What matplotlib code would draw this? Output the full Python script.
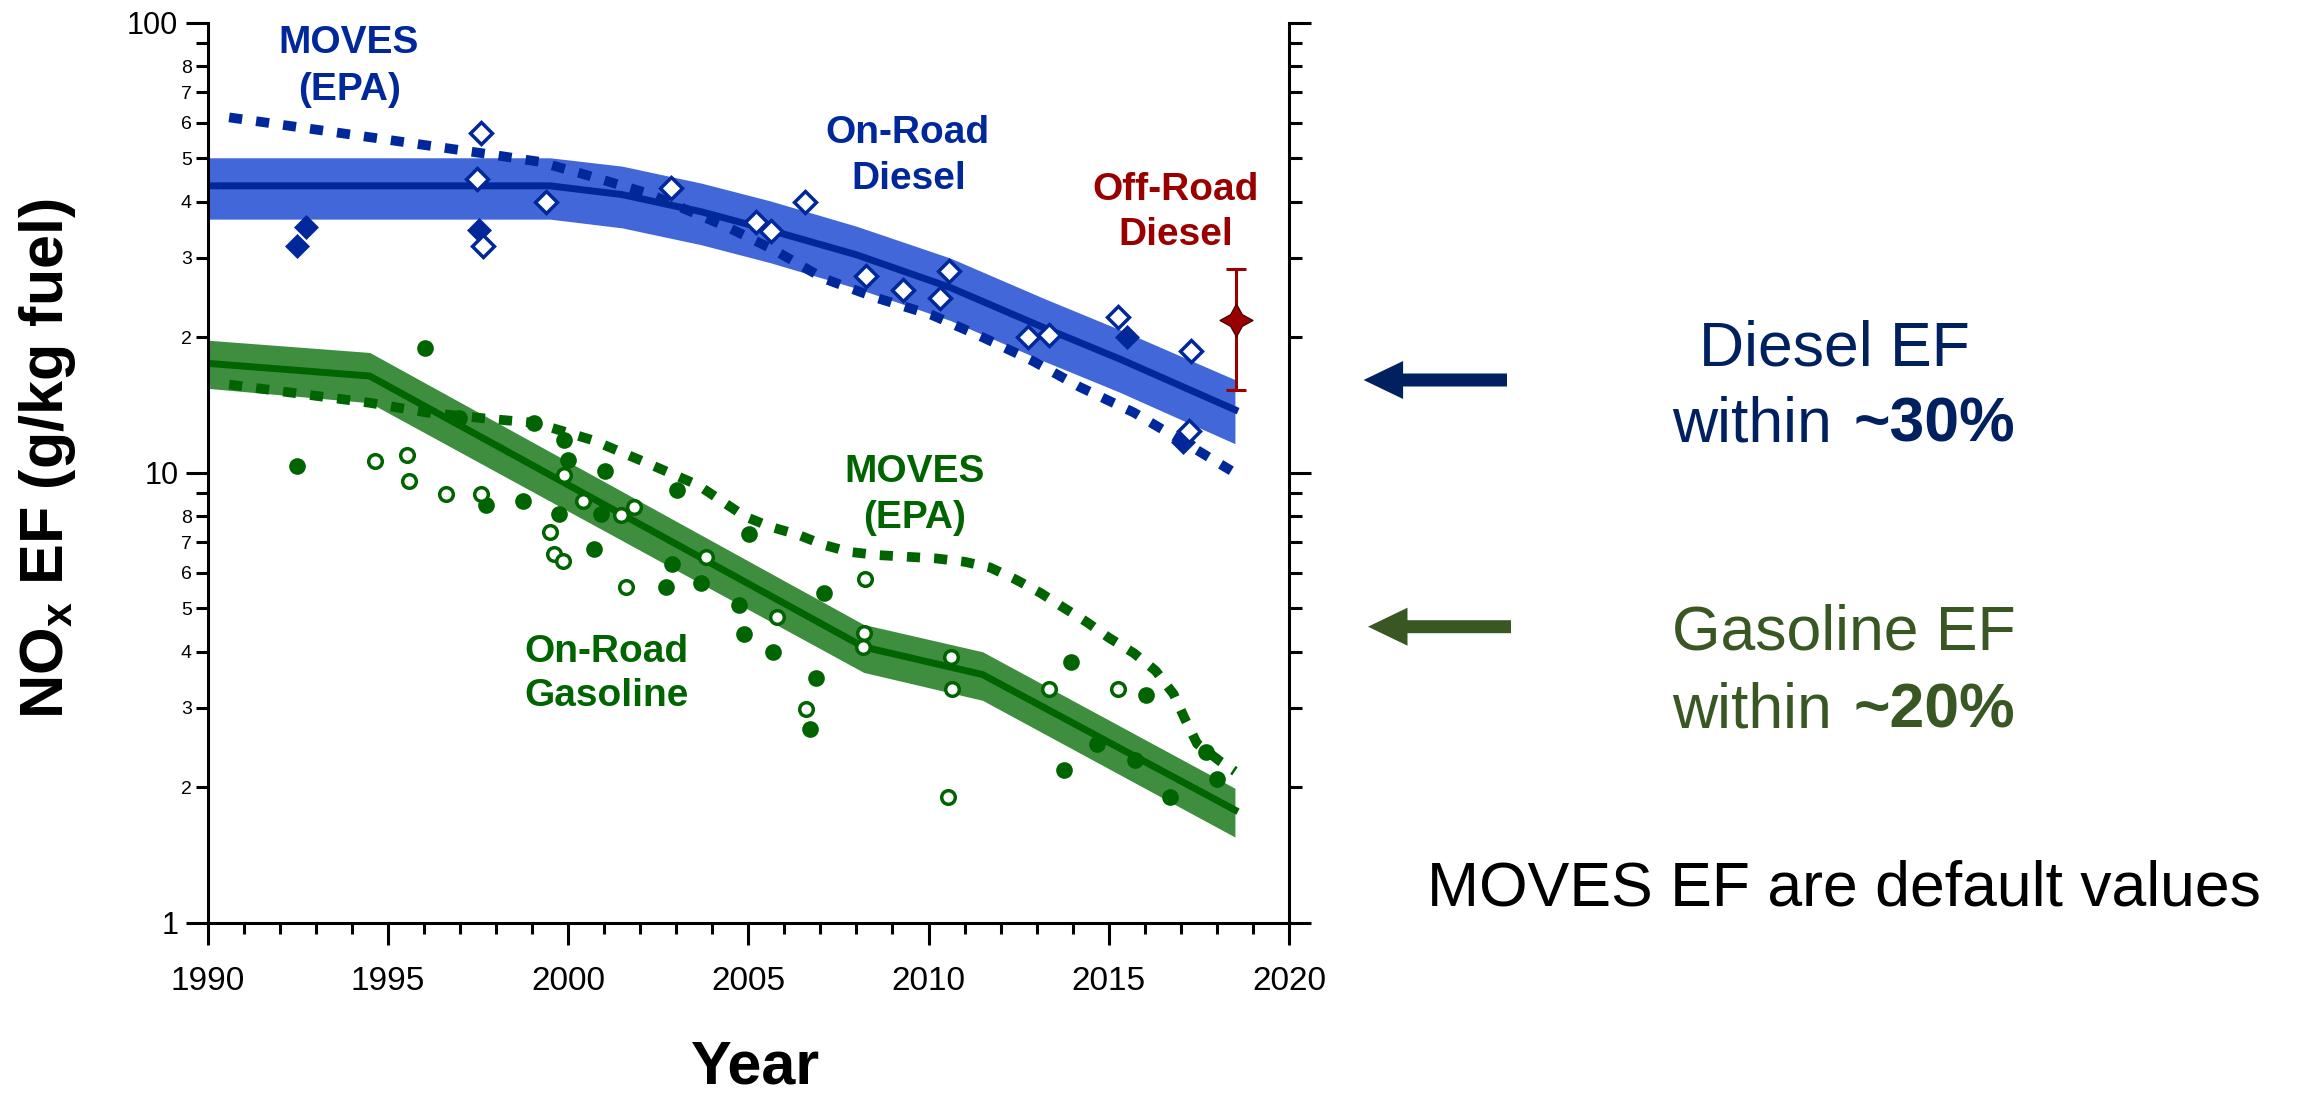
import matplotlib
matplotlib.use("Agg")
import matplotlib.pyplot as plt
from matplotlib.ticker import FixedLocator, FixedFormatter
from matplotlib.patches import FancyArrow
from matplotlib.transforms import IdentityTransform

plt.rcParams['font.family'] = ['Liberation Sans', 'DejaVu Sans']
plt.rcParams['mathtext.fontset'] = 'custom'
plt.rcParams['mathtext.rm'] = 'Liberation Sans'
plt.rcParams['mathtext.bf'] = 'Liberation Sans:bold'
plt.rcParams['mathtext.it'] = 'Liberation Sans:italic'

W, H = 2298, 1097

# on-road diesel fit and band
diesel_fit_year = [1990, 1999.5, 2001.5, 2003.7, 2005.6, 2008.0, 2010.6, 2013.2, 2015.3, 2018.5]
diesel_fit = [43.4, 43.4, 41.5, 38.0, 34.6, 30.5, 25.8, 21.0, 17.9, 13.8]
diesel_hi = [50.1, 50.1, 48.0, 44.0, 40.2, 35.3, 30.0, 24.4, 20.8, 16.1]
diesel_lo = [36.6, 36.6, 35.0, 32.1, 29.3, 25.7, 21.8, 17.7, 15.1, 11.6]

# MOVES diesel default
moves_d_year = [1990.6, 1994.0, 1997.6, 1999.2, 2000.5, 2002.2, 2004.4, 2005.7, 2007.1,
                2008.6, 2010.1, 2011.5, 2012.9, 2014.2, 2015.7, 2017.0, 2018.4]
moves_d = [61.6, 56.4, 51.3, 49.1, 45.9, 41.8, 35.2, 31.3, 27.0,
           24.4, 22.4, 20.0, 17.7, 15.5, 13.6, 11.8, 10.1]

# diesel measurements
diesel_filled_year = [1992.49, 1992.72, 1997.53, 2015.5, 2017.06]
diesel_filled = [31.9, 35.1, 34.6, 20.0, 11.7]
diesel_open_year = [1997.58, 1997.48, 1997.64, 1999.38, 2002.87, 2005.21, 2005.62, 2006.58,
                    2008.26, 2009.30, 2010.31, 2010.56, 2012.75, 2013.34, 2015.25, 2017.29, 2017.23]
diesel_open = [57.0, 44.9, 31.9, 39.9, 43.0, 36.0, 34.5, 40.0,
               27.3, 25.5, 24.5, 28.0, 20.0, 20.2, 22.2, 18.6, 12.4]

# off-road diesel
offroad_year = [2018.52]
offroad = [21.8]
offroad_lo = [15.3]
offroad_hi = [28.3]

# on-road gasoline fit and band
gas_fit_year = [1990, 1994.5, 2008.2, 2011.5, 2018.5]
gas_fit = [17.5, 16.4, 4.1, 3.56, 1.78]
gas_hi = [19.7, 18.5, 4.6, 4.0, 1.99]
gas_lo = [15.4, 14.3, 3.6, 3.12, 1.55]

# MOVES gasoline default
moves_g_year = [1990.6, 1994.5, 1996.1, 1997.7, 1999.1, 2000.7, 2002.2, 2003.6, 2004.9, 2005.6,
                2006.4, 2007.1, 2007.8, 2008.6, 2010.2, 2011.0, 2011.7, 2012.4, 2013.1, 2013.7,
                2014.4, 2015.0, 2015.7, 2016.3, 2016.8, 2017.1, 2017.45, 2018.1, 2018.5]
moves_g = [15.7, 14.3, 13.6, 13.2, 12.9, 11.8, 10.5, 9.39, 8.0, 7.59,
           7.27, 6.91, 6.67, 6.56, 6.45, 6.34, 6.16, 5.8, 5.41, 5.04,
           4.65, 4.3, 3.97, 3.63, 3.22, 2.85, 2.5, 2.28, 2.17]

# gasoline measurements
gas_filled_year = [1992.49, 1996.02, 1996.99, 1997.72, 1998.75, 1999.06, 1999.9, 2000.0, 1999.74,
                   2000.91, 2000.73, 2001.04, 2003.02, 2002.89, 2002.73, 2003.7, 2004.75, 2005.03,
                   2007.1, 2004.88, 2005.68, 2006.89, 2006.71, 2013.96, 2016.02, 2014.68, 2013.76,
                   2015.72, 2016.7, 2017.7, 2018.0]
gas_filled = [10.35, 18.95, 13.2, 8.48, 8.67, 12.9, 11.8, 10.67, 8.08,
              8.09, 6.78, 10.08, 9.15, 6.28, 5.58, 5.69, 5.09, 7.30,
              5.39, 4.39, 4.0, 3.49, 2.69, 3.79, 3.20, 2.49, 2.19,
              2.30, 1.90, 2.40, 2.09]
gas_open_year = [1994.64, 1995.53, 1995.59, 1996.62, 1997.59, 1999.88, 2000.42, 2001.47, 2001.82,
                 1999.51, 1999.61, 1999.86, 2003.84, 2001.61, 2005.8, 2006.61, 2008.23, 2008.2,
                 2008.18, 2010.63, 2010.64, 2010.53, 2013.33, 2015.25]
gas_open = [10.62, 10.95, 9.59, 8.97, 8.97, 9.88, 8.67, 8.05, 8.39,
            7.39, 6.61, 6.36, 6.50, 5.58, 4.79, 2.99, 5.80, 4.40,
            4.10, 3.90, 3.30, 1.90, 3.30, 3.30]

x_ticks = [1990, 1995, 2000, 2005, 2010, 2015, 2020]
x_minor = list(range(1990, 2021))
y_major_ticks = [1, 10, 100]
y_major_labels = ['1', '10', '100']
y_minor_ticks = [2, 3, 4, 5, 6, 7, 8, 9, 20, 30, 40, 50, 60, 70, 80, 90]
y_minor_labels = ['2', '3', '4', '5', '6', '7', '8', '', '2', '3', '4', '5', '6', '7', '8', '']

band_blue = '#4167D9'
dark_blue = '#00289A'
band_green = '#3F8E3F'
dark_green = '#006400'
dark_red = '#990000'
navy = '#002060'
olive = '#385723'

fig = plt.figure(figsize=(W / 100, H / 100), dpi=100)
ax = fig.add_axes([207.5 / W, (H - 922.7) / H, (1289 - 207.5) / W, 900 / H])

ax.fill_between(diesel_fit_year, diesel_lo, diesel_hi, color=band_blue, lw=0, zorder=1)
ax.fill_between(gas_fit_year, gas_lo, gas_hi, color=band_green, lw=0, zorder=1)
ax.plot(diesel_fit_year, diesel_fit, color=dark_blue, lw=5, zorder=2)
ax.plot(gas_fit_year, gas_fit, color=dark_green, lw=5, zorder=2)
ax.plot(moves_d_year, moves_d, color=dark_blue, lw=7, dashes=(1.35, 1.45), zorder=3)
ax.plot(moves_g_year, moves_g, color=dark_green, lw=7, dashes=(1.35, 1.45), zorder=3)

ax.plot(diesel_filled_year, diesel_filled, 'D', ms=12, color=dark_blue, mew=0.5, zorder=4)
ax.plot(diesel_open_year, diesel_open, 'D', ms=11.5, mfc='white', mec=dark_blue, mew=2.5, zorder=4)
ax.plot(gas_filled_year, gas_filled, 'o', ms=12, color=dark_green, mew=0, zorder=4)
ax.plot(gas_open_year, gas_open, 'o', ms=9.8, mfc='white', mec=dark_green, mew=2.5, zorder=4)

ax.errorbar(offroad_year, offroad,
            yerr=[[offroad[0] - offroad_lo[0]], [offroad_hi[0] - offroad[0]]],
            fmt='none', ecolor=dark_red, elinewidth=2.2, capsize=7.5, capthick=2.2, zorder=5)
ax.plot(offroad_year, offroad, marker=(4, 1, 0), ms=24, color=dark_red, mec='#3a0000', mew=0.8,
        ls='none', zorder=6)

ax.set_xlim(1990, 2020)
ax.set_yscale('log')
ax.set_ylim(1, 100)
ax.set_xticks(x_ticks)
ax.set_xticklabels([str(t) for t in x_ticks])
ax.xaxis.set_minor_locator(FixedLocator(x_minor))
ax.yaxis.set_major_locator(FixedLocator(y_major_ticks))
ax.yaxis.set_major_formatter(FixedFormatter(y_major_labels))
ax.yaxis.set_minor_locator(FixedLocator(y_minor_ticks))
ax.yaxis.set_minor_formatter(FixedFormatter(y_minor_labels))

ax.spines['top'].set_visible(False)
for s in ['left', 'right', 'bottom']:
    ax.spines[s].set_linewidth(2.2)
ax.tick_params(axis='both', which='both', direction='out', width=2.2, color='black')
ax.tick_params(axis='x', which='major', length=16, pad=15, labelsize=24)
ax.tick_params(axis='x', which='minor', length=8)
ax.tick_params(axis='y', which='both', right=True, labelright=False)
ax.tick_params(axis='y', which='major', length=16, pad=5, labelsize=22)
ax.tick_params(axis='y', which='minor', length=9, pad=2.4, labelsize=14)


def put(s, x, y, size, color, ha='center', weight='bold', **kw):
    # x, y in reference pixels, y from the top, y at the text baseline
    fig.text(x / W, 1 - y / H, s, ha=ha, va='baseline', fontsize=size, color=color,
             fontweight=weight, **kw)


put('MOVES', 348.7, 53.3, 28, dark_blue)
put('(EPA)', 349.3, 100, 28, dark_blue)
put('On-Road', 907.7, 143.3, 28, dark_blue)
put('Diesel', 908.3, 189, 28, dark_blue)
put('Off-Road', 1175.8, 200, 28, dark_red)
put('Diesel', 1175.7, 245, 28, dark_red)
put('MOVES', 914.5, 481.7, 28, dark_green)
put('(EPA)', 914.1, 528, 28, dark_green)
put('On-Road', 606.3, 661.7, 28, dark_green)
put('Gasoline', 606.7, 706, 28, dark_green)

put('Diesel EF', 1834.6, 365, 45, navy, weight='normal')
put('within', 1831.5, 442, 45, navy, ha='right', weight='normal')
put('~30%', 1853, 442, 45, navy, ha='left')
put('Gasoline EF', 1843.5, 650, 45, olive, weight='normal')
put('within', 1831.5, 727, 45, olive, ha='right', weight='normal')
put('~20%', 1853, 727, 45, olive, ha='left')
put('MOVES EF are default values', 1844, 906, 45, 'black', weight='normal')

put('Year', 755.5, 1084, 44, 'black')
fig.text(48 / W, 1 - 459 / H, r'NO$_\mathbf{x}$ EF (g/kg fuel)', rotation=90, ha='center',
         va='center', fontsize=44, fontweight='bold')

for tail, tip, yc, col in [(1507, 1363.6, 380, navy), (1511, 1368, 626.7, olive)]:
    arr = FancyArrow(tail, H - yc, tip - tail, 0, width=13, head_width=38, head_length=39.5,
                     length_includes_head=True, color=col, lw=0, transform=IdentityTransform())
    fig.add_artist(arr)

fig.savefig('out.png', dpi=100)
